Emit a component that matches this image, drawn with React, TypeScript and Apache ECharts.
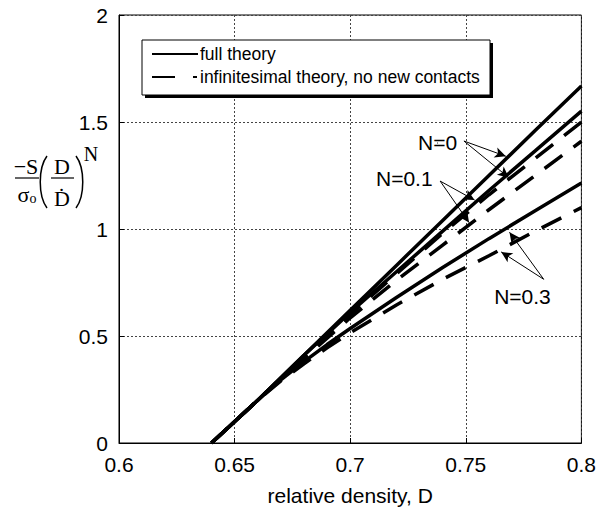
import React, { useEffect, useRef } from "react";
import * as echarts from "echarts";

// Relative density samples
const D = [0.64, 0.65, 0.66, 0.67, 0.68, 0.69, 0.7, 0.72, 0.74, 0.76, 0.78, 0.8];
// full theory
const fullN0 = [0, 0.1, 0.2, 0.305, 0.41, 0.515, 0.62, 0.83, 1.04, 1.25, 1.46, 1.668];
const fullN01 = [0, 0.1, 0.2, 0.305, 0.41, 0.51, 0.61, 0.8, 0.99, 1.18, 1.365, 1.551];
const fullN03 = [0, 0.1, 0.2, 0.295, 0.38, 0.46, 0.535, 0.68, 0.82, 0.955, 1.085, 1.215];
// infinitesimal theory, no new contacts
const infN0 = [0, 0.1, 0.2, 0.3, 0.4, 0.5, 0.6, 0.79, 0.98, 1.16, 1.33, 1.5];
const infN01 = [0, 0.1, 0.2, 0.3, 0.395, 0.49, 0.585, 0.76, 0.925, 1.09, 1.25, 1.41];
const infN03 = [0, 0.1, 0.2, 0.29, 0.37, 0.445, 0.515, 0.645, 0.765, 0.875, 0.99, 1.1];

const xTicks = [0.6, 0.65, 0.7, 0.75, 0.8];
const yTicks = [0, 0.5, 1, 1.5, 2];

// annotation labels [D, value, text]
const annoLabels: [number, number, string][] = [
  [0.7378, 1.402, "N=0"],
  [0.7234, 1.237, "N=0.1"],
  [0.7745, 0.685, "N=0.3"],
];
// annotation arrows [fromD, fromV, toD, toV]
const annoArrows: [number, number, number, number][] = [
  [0.7492, 1.411, 0.7673, 1.34],
  [0.7492, 1.411, 0.7686, 1.24],
  [0.7389, 1.224, 0.7538, 1.135],
  [0.7389, 1.224, 0.7514, 1.03],
  [0.7837, 0.765, 0.7689, 0.985],
  [0.7837, 0.765, 0.7653, 0.893],
];

const SANS = '"Liberation Sans", Arial, sans-serif';
const SERIF = '"Liberation Serif", "DejaVu Serif", serif';

function pairs(ys: number[]) {
  return D.map((d, i) => [d, ys[i]]);
}

export default function App() {
  const ref = useRef<HTMLDivElement>(null);
  useEffect(() => {
    if (!ref.current) return;
    const chart = echarts.init(ref.current, undefined, { renderer: "svg" });
    const solid = { color: "#000", width: 3.5, type: "solid" as const };
    const dashed = { color: "#000", width: 3.5, type: [22, 14] as any };
    const mk = (name: string, ys: number[], ls: any) => ({
      name,
      type: "line",
      data: pairs(ys),
      showSymbol: false,
      symbol: "none",
      lineStyle: ls,
      itemStyle: { color: "#000" },
      silent: true,
      z: 3,
    });
    const series: any[] = [
      mk("inf N=0", infN0, dashed),
      mk("inf N=0.1", infN01, dashed),
      mk("inf N=0.3", infN03, dashed),
      mk("full N=0", fullN0, solid),
      mk("full N=0.1", fullN01, solid),
      mk("full N=0.3", fullN03, solid),
    ];
    series[0].markLine = {
      silent: true,
      animation: false,
      symbol: ["none", "arrow"],
      symbolSize: [8, 11],
      label: { show: false },
      itemStyle: { color: "#000" },
      lineStyle: { color: "#000", width: 1, type: "solid" },
      emphasis: { disabled: true },
      data: annoArrows.map(([a, b, c, d]) => [{ coord: [a, b] }, { coord: [c, d] }]),
    };
    series.push({
      name: "labels",
      type: "scatter",
      data: annoLabels.map((a) => [a[0], a[1], a[2]]),
      symbolSize: 1,
      itemStyle: { color: "#000", opacity: 1 },
      silent: true,
      label: {
        show: true,
        position: "inside",
        formatter: (p: any) => p.value[2],
        color: "#000",
        textBorderWidth: 0,
        opacity: 1,
        fontFamily: SANS,
        fontSize: 21,
      },
      z: 5,
    });

    const txt = (x: number, y: number, text: string, font: string, align = "center") => ({
      type: "text",
      x,
      y,
      z: 20,
      style: { text, font, fill: "#000000", opacity: 1, align, verticalAlign: "middle" },
    });

    chart.setOption({
      animation: false,
      color: ["#000"],
      grid: {
        left: 119,
        right: 15,
        top: 15,
        bottom: 68,
        show: true,
        borderColor: "#000",
        borderWidth: 1,
      },
      xAxis: {
        type: "value",
        min: xTicks[0],
        max: xTicks[xTicks.length - 1],
        interval: 0.05,
        name: "relative density, D",
        nameLocation: "middle",
        nameGap: 42,
        nameTextStyle: { color: "#000", fontFamily: SANS, fontSize: 21 },
        axisLine: { lineStyle: { color: "#000", width: 1 } },
        axisTick: { inside: true, length: 5, lineStyle: { color: "#000" } },
        axisLabel: {
          color: "#000",
          fontFamily: SANS,
          fontSize: 21,
          margin: 11,
          formatter: (v: number) => String(+v.toFixed(2)),
        },
        splitLine: { show: true, lineStyle: { color: "#444", width: 1, type: [2, 2] } },
      },
      yAxis: {
        type: "value",
        min: yTicks[0],
        max: yTicks[yTicks.length - 1],
        interval: 0.5,
        axisLine: { show: true, lineStyle: { color: "#000", width: 1 } },
        axisTick: { show: true, inside: true, length: 5, lineStyle: { color: "#000" } },
        axisLabel: {
          color: "#000",
          fontFamily: SANS,
          fontSize: 21,
          margin: 11,
          formatter: (v: number) => String(+v.toFixed(2)),
        },
        splitLine: { show: true, lineStyle: { color: "#444", width: 1, type: [2, 2] } },
      },
      series,
      graphic: [
        // legend box with drop shadow
        { type: "rect", z: 20, shape: { x: 145, y: 43, width: 348, height: 55 }, style: { fill: "#000" } },
        {
          type: "rect",
          z: 21,
          shape: { x: 142, y: 40, width: 348, height: 55 },
          style: { fill: "#fff", stroke: "#000", lineWidth: 1 },
        },
        { type: "line", z: 22, shape: { x1: 152, y1: 54, x2: 198, y2: 54 }, style: { stroke: "#000", lineWidth: 2 } },
        { type: "line", z: 22, shape: { x1: 152, y1: 77, x2: 175, y2: 77 }, style: { stroke: "#000", lineWidth: 2 } },
        { type: "line", z: 22, shape: { x1: 193, y1: 77, x2: 197, y2: 77 }, style: { stroke: "#000", lineWidth: 2 } },
        { ...txt(200, 54, "full theory", `17.5px ${SANS}`, "left"), z: 22 },
        { ...txt(200, 77, "infinitesimal theory, no new contacts", `17.5px ${SANS}`, "left"), z: 22 },
        // y-axis label: -S/σo (D/Ḋ)^N
        txt(26, 166, "\u2212S", `22px ${SERIF}`),
        { type: "line", z: 20, shape: { x1: 15, y1: 178, x2: 39, y2: 178 }, style: { stroke: "#000", lineWidth: 1.2 } },
        {
          type: "text",
          x: 27,
          y: 194,
          z: 20,
          style: {
            text: "{s|\u03c3}{o|o}",
            fill: "#000000",
            align: "center",
            verticalAlign: "middle",
            rich: {
              s: { fontFamily: SERIF, fontSize: 22, fill: "#000000", color: "#000000" },
              o: { fontFamily: SERIF, fontSize: 14, fill: "#000000", color: "#000000", padding: [8, 0, 0, 0] },
            },
          },
        },
        {
          type: "bezierCurve",
          z: 20,
          shape: { x1: 47, y1: 156, x2: 47, y2: 208, cpx1: 38, cpy1: 168, cpx2: 38, cpy2: 196 },
          style: { stroke: "#000", lineWidth: 1.5, fill: "none" },
        },
        txt(62, 166, "D", `22px ${SERIF}`),
        { type: "line", z: 20, shape: { x1: 51, y1: 178, x2: 74, y2: 178 }, style: { stroke: "#000", lineWidth: 1.2 } },
        txt(62, 198, "\u1e0a", `22px ${SERIF}`),
        {
          type: "bezierCurve",
          z: 20,
          shape: { x1: 76, y1: 156, x2: 76, y2: 208, cpx1: 85, cpy1: 168, cpx2: 85, cpy2: 196 },
          style: { stroke: "#000", lineWidth: 1.5, fill: "none" },
        },
        txt(91, 154, "N", `20px ${SERIF}`),
      ],
    });
    return () => chart.dispose();
  }, []);
  return (
    <div
      ref={ref}
      style={{ position: "fixed", left: 0, top: 0, width: 599, height: 511, background: "#fff" }}
    />
  );
}
